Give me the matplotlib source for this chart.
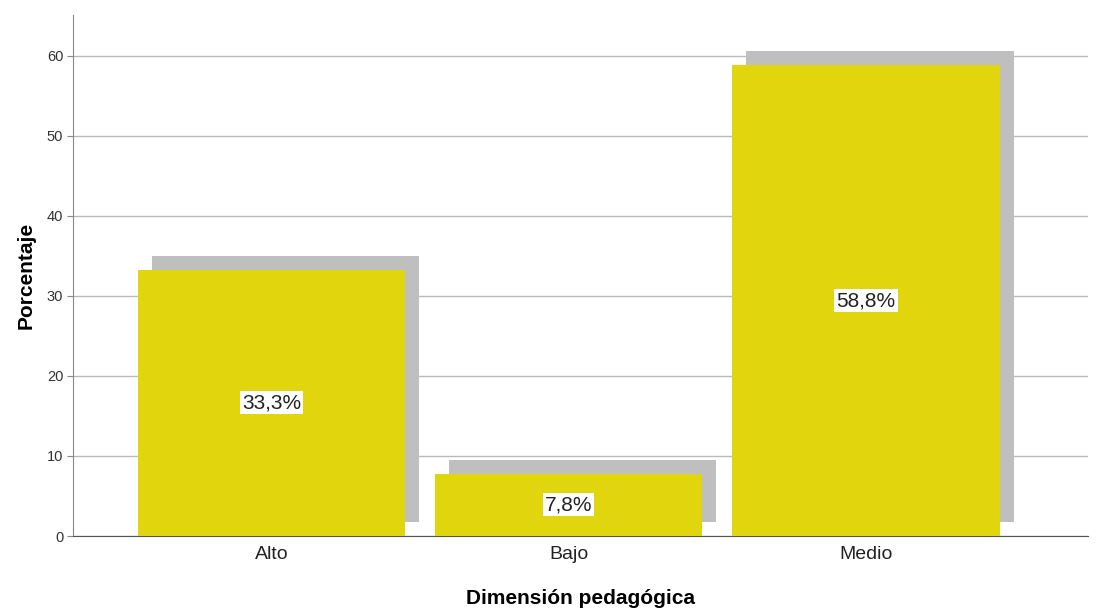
#!/usr/bin/env python

import matplotlib
matplotlib.use('Agg')
import matplotlib.pyplot as plt
import matplotlib.transforms as mtransforms

categories = ['Alto', 'Bajo', 'Medio']
porcentajes = [33.3, 7.8, 58.8]
etiquetas = ['33,3%', '7,8%', '58,8%']

plt.rcParams['font.family'] = ['Liberation Sans', 'DejaVu Sans']

fig = plt.figure(figsize=(11.03, 6.10), dpi=100)
ax = fig.add_axes([0.0662, 0.1213, 0.9202, 0.8541])

x = range(len(categories))

# sombra desplazada arriba a la derecha
shadow = mtransforms.offset_copy(ax.transData, fig=fig, x=0.14, y=0.14, units='inches')
ax.bar(x, porcentajes, width=0.9, color='#bfbfbf', transform=shadow, zorder=2)
ax.bar(x, porcentajes, width=0.9, color='#e1d60d', zorder=3)

for i, (v, lab) in enumerate(zip(porcentajes, etiquetas)):
    ax.text(i, v / 2, lab, ha='center', va='center', fontsize=15, color='#222222',
            bbox=dict(facecolor='white', edgecolor='none', pad=1.5), zorder=4)

ax.set_xlim(-0.667, 2.747)
ax.set_ylim(0, 65.1)
ax.set_yticks([0, 10, 20, 30, 40, 50, 60])
ax.set_xticks(list(x))
ax.set_xticklabels(categories, fontsize=14, color='#222222')
ax.tick_params(axis='y', labelsize=10.5, labelcolor='#333333', length=4, color='#888888', pad=3)
ax.tick_params(axis='x', length=0, pad=7)

ax.yaxis.grid(True, color='#bbbbbb', linewidth=1.0, zorder=0)
ax.set_axisbelow(True)

for s in ['top', 'right']:
    ax.spines[s].set_visible(False)
ax.spines['left'].set_color('#888888')
ax.spines['bottom'].set_color('#555555')

ax.set_ylabel('Porcentaje', fontsize=15, fontweight='bold', labelpad=8)
ax.set_xlabel('Dimensión pedagógica', fontsize=15, fontweight='bold', labelpad=19)

fig.savefig('out.png', dpi=100)
